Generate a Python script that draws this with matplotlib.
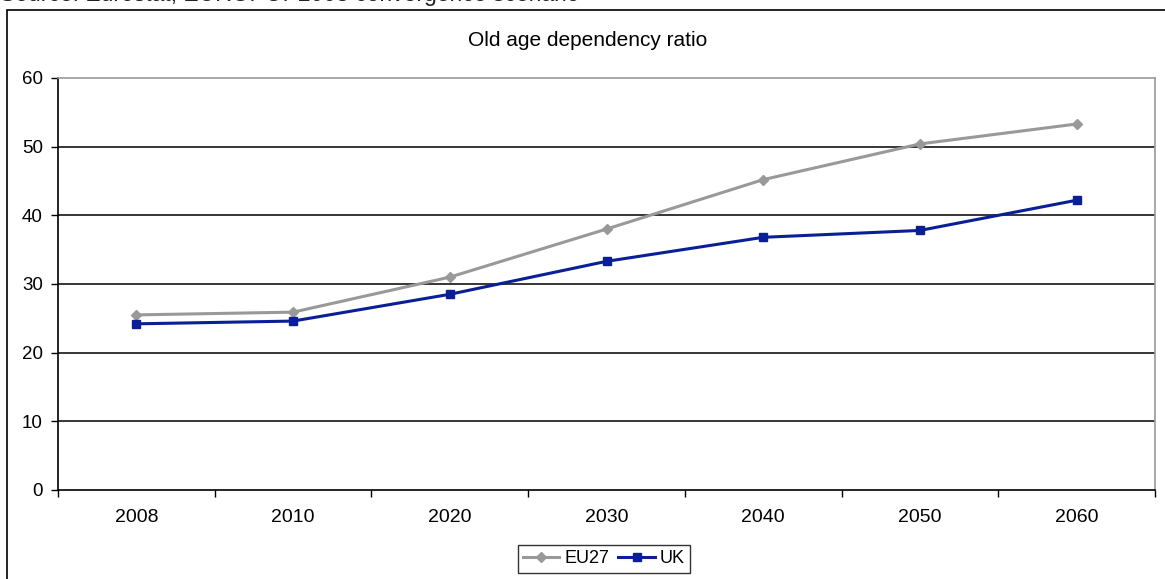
import matplotlib
matplotlib.use("Agg")
import matplotlib.pyplot as plt
from matplotlib.patches import Rectangle

plt.rcParams["font.family"] = ["Liberation Sans", "DejaVu Sans"]

years = ["2008", "2010", "2020", "2030", "2040", "2050", "2060"]
eu27 = [25.5, 25.9, 31.0, 38.0, 45.2, 50.4, 53.3]
uk = [24.2, 24.6, 28.5, 33.3, 36.8, 37.8, 42.2]
y_ticks = [0, 10, 20, 30, 40, 50, 60]

COLOR_EU = "#999999"
COLOR_UK = "#0a1f96"

fig = plt.figure(figsize=(11.65, 5.79), dpi=100)
ax = fig.add_axes([58 / 1165, 89 / 579, 1097 / 1165, 412 / 579])

# outer chart border (partly cropped in the reference)
fig.add_artist(Rectangle((7 / 1165, -0.2), 1.2, 1.2 - 10 / 579,
                         transform=fig.transFigure, fill=False,
                         edgecolor="black", linewidth=1.2, clip_on=False))
# source note, cropped at the top edge in the reference
fig.text(0.0, 1 - 1 / 579, "Source: Eurostat, EUROPOP2008 convergence scenario",
         fontsize=16.5, va="baseline", ha="left", color="#222222")

xs = list(range(len(years)))
ax.plot(xs, eu27, color=COLOR_EU, marker="D", markersize=5, linewidth=2.2, label="EU27")
ax.plot(xs, uk, color=COLOR_UK, marker="s", markersize=6, linewidth=2.2, label="UK")

ax.set_xlim(-0.5, len(years) - 0.5)
ax.set_ylim(0, 60)
ax.set_yticks(y_ticks)
ax.tick_params(axis="y", length=5, width=1, labelsize=13.5, pad=6)
ax.set_xticks(xs)
ax.set_xticklabels(years, fontsize=14)
ax.tick_params(axis="x", length=0, pad=14)
ax.set_xticks([i - 0.5 for i in range(len(years) + 1)], minor=True)
ax.tick_params(axis="x", which="minor", length=5, width=1)

for v in y_ticks[1:-1]:
    ax.axhline(v, color="black", linewidth=1.1, zorder=0)

ax.spines["left"].set_color("black")
ax.spines["bottom"].set_color("black")
ax.spines["top"].set_color("#999999")
ax.spines["right"].set_color("#999999")
for s in ax.spines.values():
    s.set_linewidth(1.2)

fig.text(588 / 1165, 1 - 41 / 579, "Old age dependency ratio", fontsize=15,
         ha="center", va="center")

fig.legend(loc="upper center", bbox_to_anchor=(604 / 1165, 1 - 545 / 579), ncol=2,
           fontsize=13, frameon=True, fancybox=False, edgecolor="black",
           handlelength=2.0, handletextpad=0.3, columnspacing=0.5,
           borderpad=0.3, borderaxespad=0)

fig.savefig("out.png", dpi=100)
